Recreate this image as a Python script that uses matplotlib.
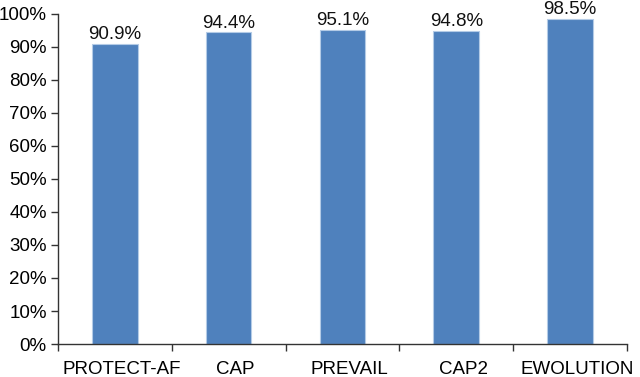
import numpy as np
import matplotlib.pyplot as plt
import matplotlib.transforms as mtransforms
from matplotlib.ticker import FixedLocator, PercentFormatter

studies = ["PROTECT-AF", "CAP", "PREVAIL", "CAP2", "EWOLUTION"]
success = [90.9, 94.4, 95.1, 94.8, 98.5]
labels = ["90.9%", "94.4%", "95.1%", "94.8%", "98.5%"]

plt.rcParams.update({'font.family': ['Liberation Sans', 'DejaVu Sans'],
                     'font.size': 13})

fig = plt.figure(figsize=(6.4, 3.77), dpi=100)
ax = fig.add_axes([0.0906, 0.0875, 0.889, 0.8755])

x = np.arange(len(studies))
bars = ax.bar(x, success, width=0.4, color='#4F81BD',
              edgecolor='#B4CBE6', linewidth=0.8)

for b, lab in zip(bars, labels):
    ax.text(b.get_x() + b.get_width() / 2, b.get_height() + 0.2, lab,
            ha='center', va='bottom', fontsize=13.5, color='#111111')

ax.set_xlim(-0.5, len(studies) - 0.5)
ax.set_ylim(0, 100)
ax.set_yticks(np.arange(0, 101, 10))
ax.yaxis.set_major_formatter(PercentFormatter(decimals=0))

ax.set_xticks(x)
ax.set_xticklabels(studies)
ax.xaxis.set_minor_locator(FixedLocator(np.arange(-0.5, len(studies), 1.0)))
ax.tick_params(axis='x', which='major', length=0, pad=12, labelsize=13.5)
ax.tick_params(axis='x', which='minor', length=5, width=1, color='#333333')
ax.tick_params(axis='y', length=5, width=1, color='#333333', labelsize=13.5,
               pad=3)

# category labels sit a little right of the bar centres in the original
shift = mtransforms.ScaledTranslation(0.07, 0, fig.dpi_scale_trans)
for t in ax.get_xticklabels():
    t.set_transform(t.get_transform() + shift)

for s in ['top', 'right']:
    ax.spines[s].set_visible(False)
for s in ['left', 'bottom']:
    ax.spines[s].set_color('#333333')
    ax.spines[s].set_linewidth(1.0)

fig.savefig('out.png', dpi=100)
